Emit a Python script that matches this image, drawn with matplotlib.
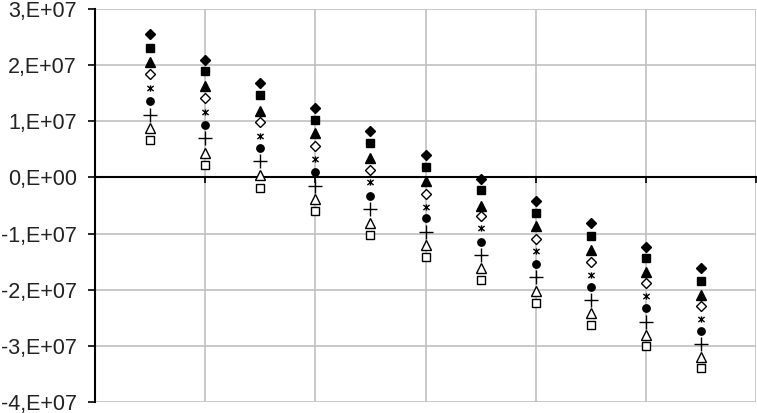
import matplotlib
matplotlib.use("Agg")
import matplotlib.pyplot as plt
from matplotlib.path import Path
import numpy as np

plt.rcParams['font.family'] = ['Liberation Sans', 'DejaVu Sans']

# x positions of the eleven groups
groups = np.arange(1, 12)

# values, in units of 1E7
s_diamond = [2.55, 2.10, 1.68, 1.24, 0.82, 0.40, -0.02, -0.42, -0.81, -1.24, -1.62]
s_square = [2.30, 1.89, 1.47, 1.02, 0.61, 0.18, -0.23, -0.63, -1.05, -1.44, -1.84]
s_triangle = [2.06, 1.62, 1.19, 0.79, 0.35, -0.07, -0.50, -0.87, -1.30, -1.69, -2.10]
s_open_diamond = [1.85, 1.42, 0.99, 0.56, 0.14, -0.29, -0.69, -1.10, -1.50, -1.88, -2.29]
s_asterisk = [1.60, 1.17, 0.74, 0.32, -0.09, -0.53, -0.90, -1.31, -1.73, -2.11, -2.52]
s_dot = [1.37, 0.94, 0.52, 0.09, -0.33, -0.73, -1.15, -1.55, -1.95, -2.33, -2.74]
s_plus = [1.12, 0.70, 0.29, -0.15, -0.57, -0.97, -1.39, -1.77, -2.18, -2.58, -2.97]
s_open_triangle = [0.88, 0.43, 0.04, -0.38, -0.81, -1.21, -1.62, -2.02, -2.41, -2.81, -3.19]
s_open_square = [0.67, 0.23, -0.18, -0.60, -1.03, -1.42, -1.82, -2.23, -2.63, -3.00, -3.40]

y_ticks = [3e7, 2e7, 1e7, 0, -1e7, -2e7, -3e7, -4e7]
y_labels = ['3,E+07', '2,E+07', '1,E+07', '0,E+00',
            '-1,E+07', '-2,E+07', '-3,E+07', '-4,E+07']

# excel-style asterisk: an x with a vertical bar through it
asterisk = Path([(-1, -0.8), (1, 0.8), (-1, 0.8), (1, -0.8), (0, -1), (0, 1)],
                [Path.MOVETO, Path.LINETO] * 3)

fig = plt.figure(figsize=(7.57, 4.13), dpi=100)
ax = fig.add_axes([95 / 757, 1 - 402 / 413, 661 / 757, 393 / 413])

# (values, marker, size, filled)
series = [
    (s_diamond, 'D', 5.3, True),
    (s_square, 's', 5.8, True),
    (s_triangle, '^', 6.5, True),
    (s_open_diamond, 'D', 4.8, False),
    (s_asterisk, asterisk, 4.5, True),
    (s_dot, 'o', 5.3, True),
    (s_plus, '+', 10, True),
    (s_open_triangle, '^', 6.5, False),
    (s_open_square, 's', 5.8, False),
]
for vals, marker, size, filled in series:
    ax.plot(groups, np.array(vals) * 1e7, linestyle='none', marker=marker,
            markersize=size, markeredgewidth=1,
            markerfacecolor='black' if filled else 'white',
            markeredgecolor='black', color='black', zorder=3)

ax.set_xlim(0, 12)
ax.set_ylim(-4e7, 3e7)
ax.set_yticks(y_ticks)
ax.set_yticklabels(y_labels, fontsize=15.5, color='#222222')
ax.set_xticks([2, 4, 6, 8, 10, 12])
ax.set_xticklabels([])

ax.grid(True, color='#c0c0c0', linewidth=1.2, zorder=0)
ax.set_axisbelow(True)

ax.spines['top'].set_visible(False)
ax.spines['right'].set_visible(False)
ax.spines['left'].set_linewidth(1.5)
ax.spines['bottom'].set_position(('data', 0))
ax.spines['bottom'].set_linewidth(1.5)
ax.tick_params(axis='y', direction='out', length=5, width=1.2, pad=8)
ax.tick_params(axis='x', direction='out', length=4, width=1.2)

fig.savefig('out.png', dpi=100)
